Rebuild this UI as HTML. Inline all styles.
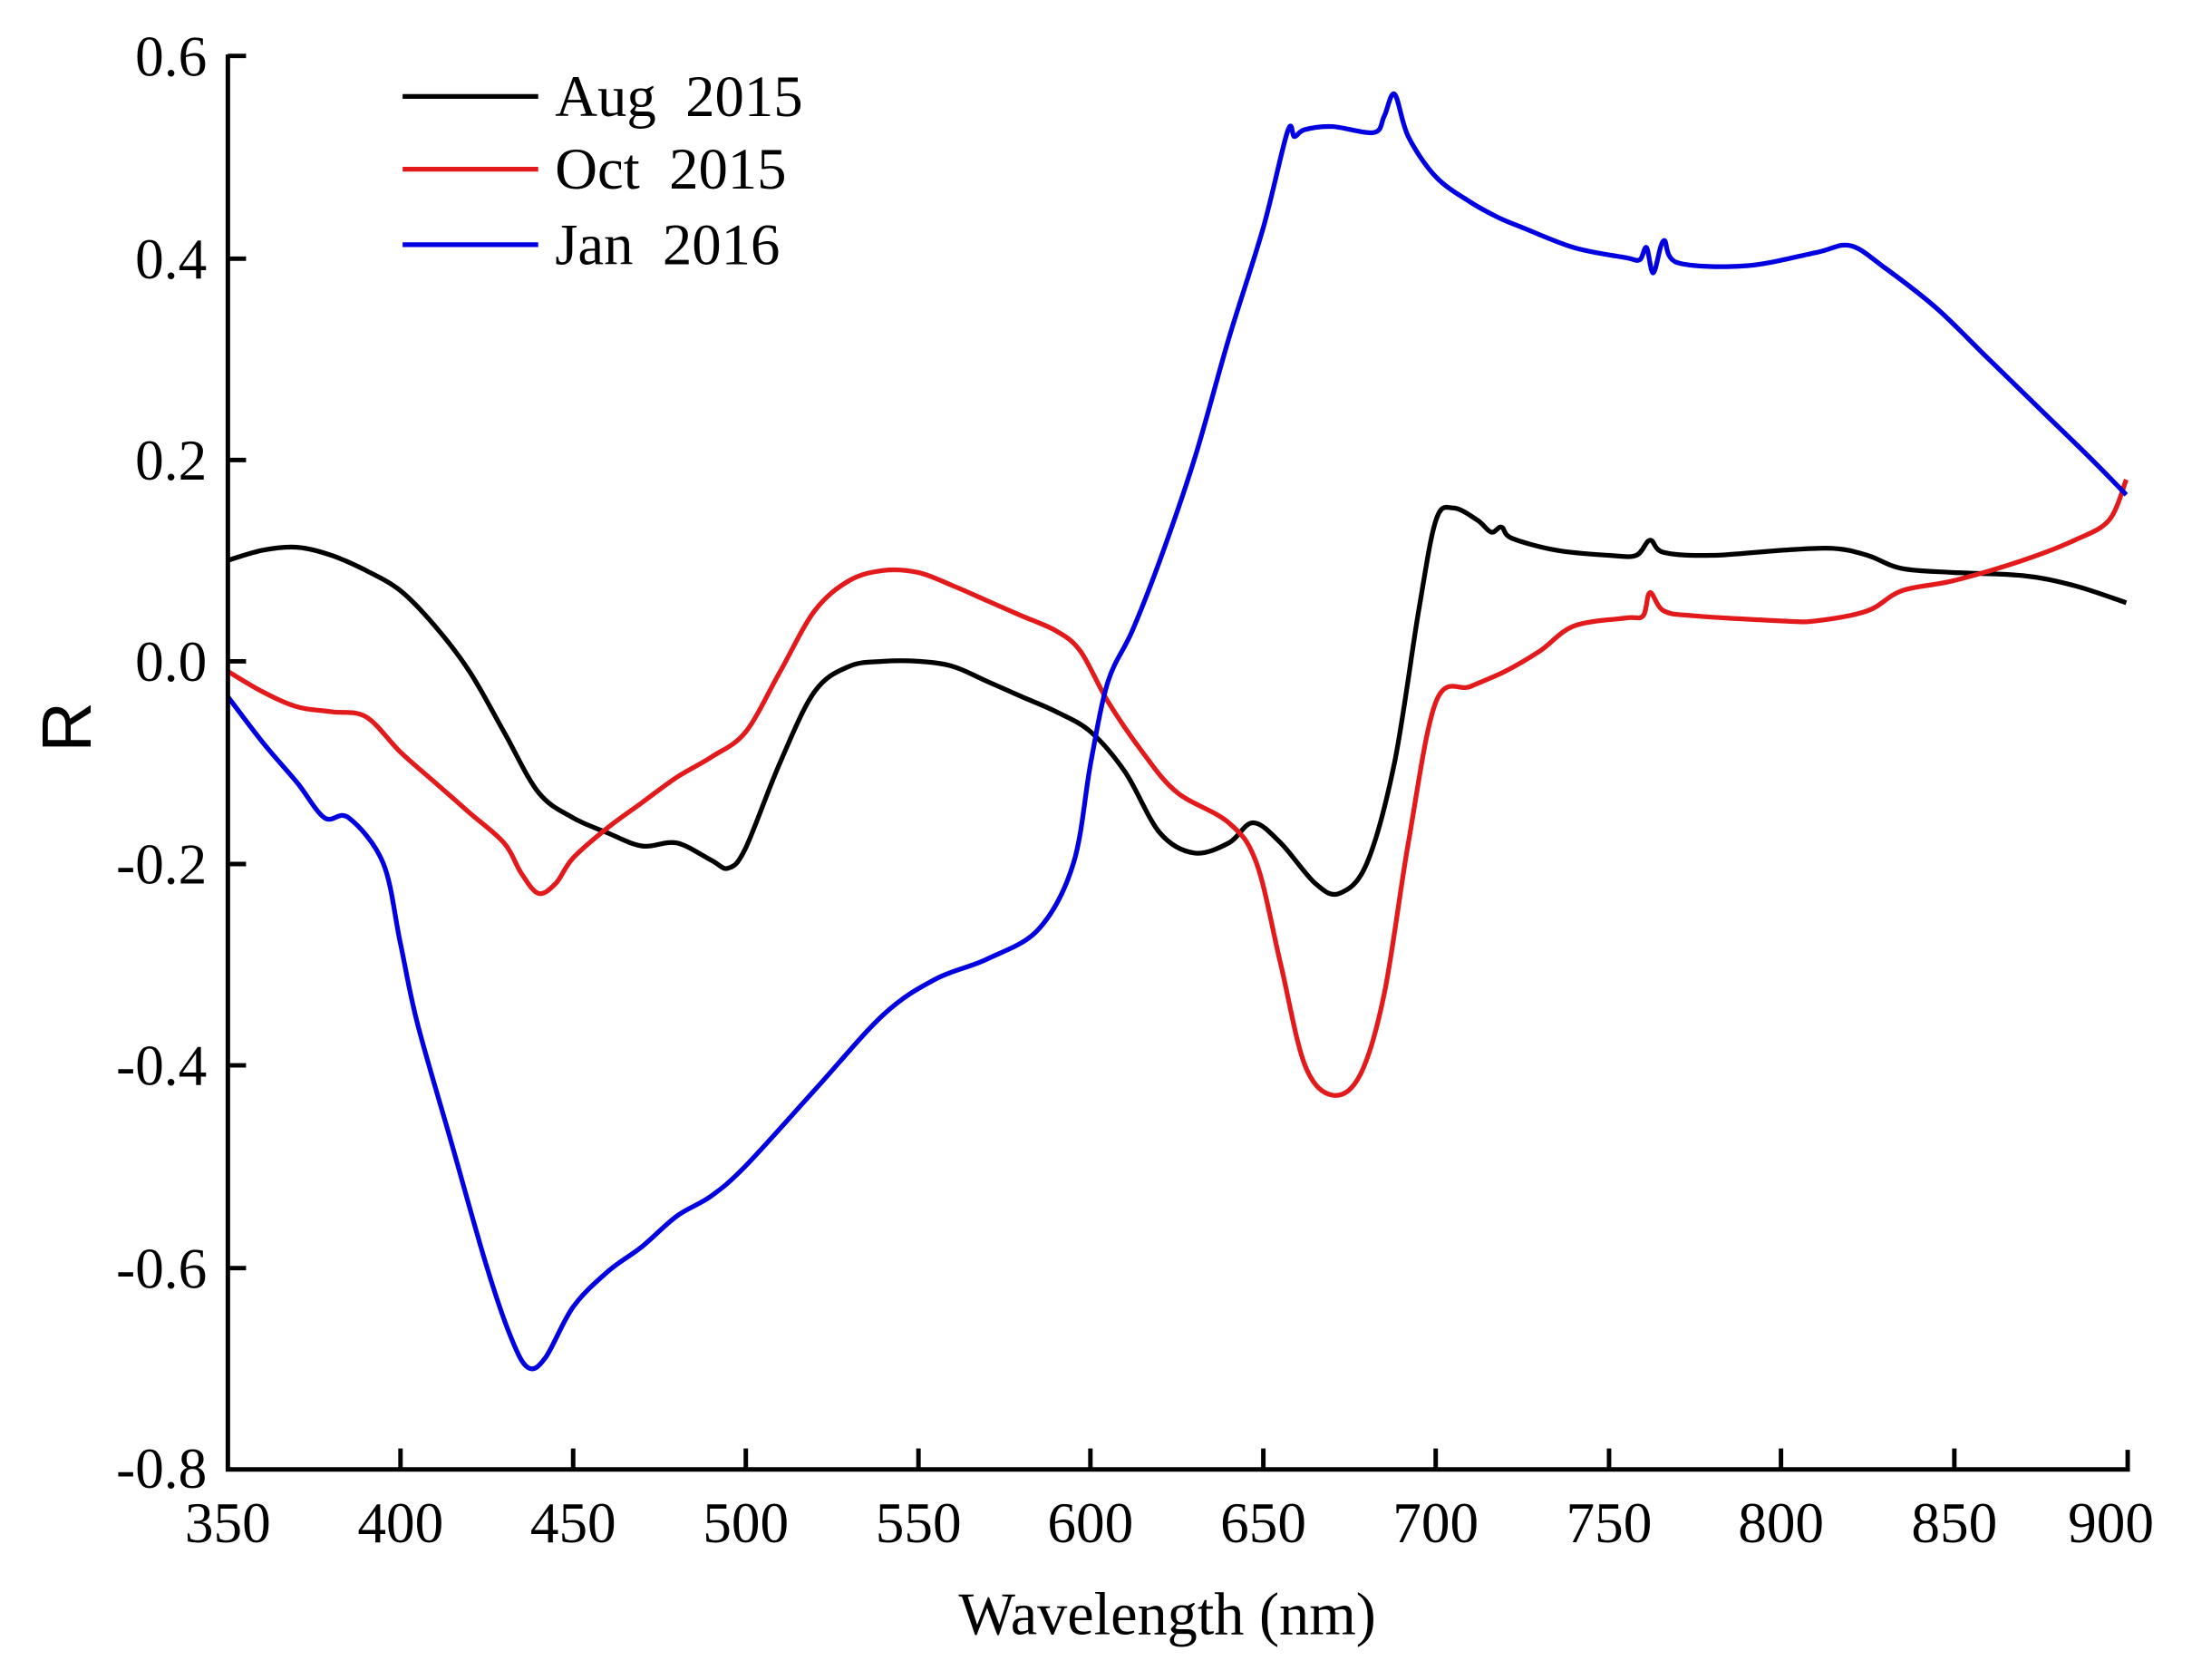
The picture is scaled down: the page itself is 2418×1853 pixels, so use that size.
<!DOCTYPE html>
<html><head><meta charset="utf-8"><style>html,body{margin:0;padding:0;background:#fff}svg{display:block}text{white-space:pre}</style></head>
<body>
<svg id="s" width="2418" height="1853" viewBox="0 0 1568 1201.6" preserveAspectRatio="none" xmlns="http://www.w3.org/2000/svg" font-family="Liberation Serif, serif">
<rect width="1568" height="1201.6" fill="#fff"/>
<g id="curves" fill="none" stroke-width="3.4" stroke-linejoin="round"></g>
<g stroke="#000" stroke-width="3.2" fill="none">
<path d="M163,39 V1051 H1522 V1037"/>
<path d="M163,40h13 M163,185h13 M163,329h13 M163,473h13 M163,618h13 M163,762h13 M163,907h13"/>
<path d="M286.5,1051v-15 M410,1051v-15 M533.5,1051v-15 M657,1051v-15 M780,1051v-15 M903.7,1051v-15 M1027,1051v-15 M1151,1051v-15 M1274,1051v-15 M1398,1051v-15"/>
</g>
<g font-size="41" text-anchor="end" fill="#000">
<text x="148" y="54">0.6</text><text x="148" y="199">0.4</text><text x="148" y="343">0.2</text><text x="148" y="487">0.0</text><text x="148" y="632">-0.2</text><text x="148" y="776">-0.4</text><text x="148" y="921">-0.6</text><text x="148" y="1064">-0.8</text>
</g>
<g font-size="41" text-anchor="middle" fill="#000">
<text x="163" y="1103">350</text><text x="286.5" y="1103">400</text><text x="410" y="1103">450</text><text x="533.5" y="1103">500</text><text x="657" y="1103">550</text><text x="780" y="1103">600</text><text x="903.7" y="1103">650</text><text x="1027" y="1103">700</text><text x="1151" y="1103">750</text><text x="1274" y="1103">800</text><text x="1398" y="1103">850</text><text x="1510" y="1103">900</text>
</g>
<text x="835" y="1169" font-size="43" text-anchor="middle">Wavelength (nm)</text>
<text transform="translate(65,520) rotate(-90)" font-family="Liberation Sans, sans-serif" font-size="50" text-anchor="middle">R</text>
<g stroke-width="3.4">
<line x1="288" y1="69" x2="385" y2="69" stroke="#000"/>
<line x1="288" y1="121" x2="385" y2="121" stroke="#e31a1c"/>
<line x1="288" y1="175" x2="385" y2="175" stroke="#0000e0"/>
</g>
<g font-size="42">
<text x="397" y="83">Aug  2015</text>
<text x="397" y="135">Oct  2015</text>
<text x="397" y="189">Jan  2016</text>
</g>
</svg>
<script>
var X=function(n){return 163+(n-350)*2.4691};var Y=function(r){return 473-r*721.7};
var D={
"#000":[[350,0.10],[360,0.11],[370,0.113],[380,0.105],[390,0.09],[400,0.07],[410,0.035],[420,-0.01],[430,-0.07],[440,-0.13],[450,-0.155],[460,-0.17],[470,-0.183],[480,-0.18],[490,-0.197],[495,-0.205],[500,-0.185],[510,-0.10],[520,-0.03],[530,-0.005],[540,0],[550,0],[560,-0.005],[570,-0.02],[580,-0.035],[590,-0.05],[600,-0.07],[610,-0.11],[620,-0.17],[630,-0.19],[640,-0.18],[647,-0.16],[655,-0.18],[665,-0.22],[672,-0.23],[680,-0.2],[688,-0.1],[695,0.05],[700,0.14],[705,0.152],[712,0.14],[716,0.128],[719,0.133],[722,0.122],[735,0.11],[750,0.105],[758,0.105],[762,0.12],[766,0.108],[780,0.105],[800,0.11],[815,0.112],[825,0.105],[835,0.092],[850,0.088],[870,0.085],[885,0.075],[900,0.058]],
"#e31a1c":[[350,-0.01],[360,-0.03],[370,-0.045],[380,-0.05],[390,-0.055],[400,-0.09],[410,-0.12],[420,-0.15],[430,-0.18],[435,-0.21],[440,-0.23],[445,-0.22],[450,-0.195],[460,-0.165],[470,-0.14],[480,-0.115],[490,-0.095],[500,-0.07],[510,-0.01],[520,0.05],[530,0.08],[540,0.09],[550,0.088],[560,0.075],[570,0.06],[580,0.045],[590,0.03],[597,0.01],[605,-0.04],[615,-0.09],[625,-0.13],[640,-0.16],[648,-0.2],[655,-0.3],[662,-0.4],[670,-0.43],[678,-0.41],[685,-0.33],[692,-0.18],[700,-0.04],[710,-0.025],[720,-0.01],[730,0.01],[740,0.035],[755,0.043],[760,0.045],[762,0.068],[766,0.05],[775,0.045],[800,0.04],[810,0.04],[825,0.05],[835,0.07],[850,0.08],[870,0.1],[885,0.12],[895,0.14],[900,0.18]],
"#0000e0":[[350,-0.035],[360,-0.08],[370,-0.12],[378,-0.155],[385,-0.155],[395,-0.2],[400,-0.28],[405,-0.36],[415,-0.48],[425,-0.6],[432,-0.67],[437,-0.7],[442,-0.69],[450,-0.64],[460,-0.605],[470,-0.58],[480,-0.55],[490,-0.53],[500,-0.5],[520,-0.425],[540,-0.35],[555,-0.315],[570,-0.295],[585,-0.265],[595,-0.2],[600,-0.1],[605,-0.02],[612,0.03],[620,0.1],[630,0.2],[640,0.32],[650,0.43],[657,0.525],[659,0.52],[662,0.527],[670,0.53],[682,0.524],[685,0.54],[688,0.562],[692,0.52],[700,0.48],[710,0.455],[718,0.44],[725,0.43],[740,0.41],[755,0.4],[759,0.398],[761,0.41],[763,0.385],[766,0.417],[770,0.395],[790,0.392],[810,0.405],[820,0.412],[830,0.39],[845,0.35],[860,0.3],[875,0.25],[890,0.2],[900,0.165]]};
var g=document.getElementById('curves'),ns='http://www.w3.org/2000/svg';
for(var c in D){var p=D[c],d='M'+X(p[0][0]).toFixed(1)+','+Y(p[0][1]).toFixed(1);
for(var i=0;i<p.length-1;i++){var a=p[i>0?i-1:0],b=p[i],e=p[i+1],f=p[i+2<p.length?i+2:i+1];
var bx=X(b[0]),by=Y(b[1]),ex=X(e[0]),ey=Y(e[1]);
var c1x=bx+(ex-X(a[0]))/6,c1y=by+(ey-Y(a[1]))/6,c2x=ex-(X(f[0])-bx)/6,c2y=ey-(Y(f[1])-by)/6;
d+=' C'+c1x.toFixed(1)+','+c1y.toFixed(1)+' '+c2x.toFixed(1)+','+c2y.toFixed(1)+' '+ex.toFixed(1)+','+ey.toFixed(1);}
var el=document.createElementNS(ns,'path');el.setAttribute('d',d);el.setAttribute('stroke',c);g.appendChild(el);}
</script>
</body></html>
